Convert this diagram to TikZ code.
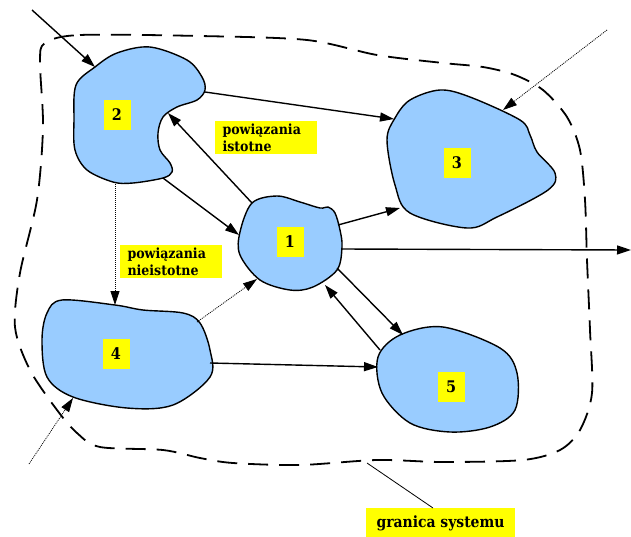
\documentclass[tikz,border=0pt]{standalone}
\usepackage{fontspec}
\setmainfont{DejaVu Serif Condensed}
\usetikzlibrary{arrows.meta}
\definecolor{blobblue}{RGB}{153,204,255}
\definecolor{lblyellow}{RGB}{255,255,0}
\begin{document}
\begin{tikzpicture}[x=1pt,y=-1pt,
  blob/.style={draw=black, line width=1.4pt, fill=blobblue},
  numbox/.style={fill=lblyellow, minimum width=27pt, minimum height=30pt, inner sep=0pt, font=\bfseries\fontsize{16}{18}\selectfont},
  lblbox/.style={fill=lblyellow, align=left, text width=86pt, inner xsep=8pt, inner ysep=3pt, font=\bfseries\fontsize{14}{17}\selectfont},
  conn/.style={line width=1.4pt, -{Triangle[length=14pt,width=9pt]}},
  weak/.style={line width=0.8pt, dash pattern=on 1pt off 1pt, -{Triangle[length=14pt,width=9pt]}},
  bound/.style={line width=1.8pt, dash pattern=on 20pt off 11pt}
]
\useasboundingbox (0,0) rectangle (631,536);

% system boundary
\draw[bound] plot[smooth cycle, tension=0.5] coordinates {
 (45,43) (80,35) (200,36) (307,40) (377,55) (443,63) (483,67) (515,75)
 (543,90) (567,117) (580,150) (585,200) (587,260) (590,330) (592,393)
 (580,430) (560,450) (523,460) (443,462) (377,460) (300,465) (233,463)
 (200,458) (163,450) (100,447) (77,433) (57,410) (30,370) (15,327)
 (20,273) (37,200) (43,127) (40,62)};

% blobs
\draw[blob] plot[smooth cycle, tension=0.55] coordinates {
 (95,67) (117,53) (150,47) (187,60) (202,77) (205,90) (197,100) (177,107)
 (163,117) (158,133) (160,150) (170,163) (172,172) (163,178) (133,183)
 (113,182) (87,170) (75,150) (74,120) (76,85)};
\draw[blob] plot[smooth cycle, tension=0.55] coordinates {
 (252,203) (277,196) (300,202) (320,208) (328,207) (335,213) (340,230)
 (342,247) (337,270) (313,287) (290,290) (260,280) (240,255) (240,232)};
\draw[blob] plot[smooth cycle, tension=0.55] coordinates {
 (410,100) (440,90) (470,97) (520,120) (530,135) (537,152) (555,173)
 (548,190) (497,217) (467,228) (410,213) (395,185) (387,140) (395,118)};
\draw[blob] plot[smooth cycle, tension=0.55] coordinates {
 (62,300) (115,305) (143,310) (183,313) (200,323) (210,350) (210,377)
 (173,405) (127,408) (73,397) (47,377) (42,340) (47,313)};
\draw[blob] plot[smooth cycle, tension=0.55] coordinates {
 (400,335) (443,327) (500,348) (517,373) (515,410) (490,427) (450,432)
 (410,423) (382,393) (378,357)};

% number labels
\node[numbox] (n1) at (290,242) {1};
\node[numbox] (n2) at (117,115) {2};
\node[numbox] (n3) at (457,163) {3};
\node[numbox] (n4) at (116,354) {4};
\node[numbox] (n5) at (451,387) {5};

% text labels
\node[lblbox] (ist) at (265.5,137.5) {powiązania\\istotne};
\node[lblbox] (nieist) at (170.5,261.5) {powiązania\\nieistotne};
\node[fill=lblyellow, minimum width=149pt, minimum height=30pt, inner sep=0pt,
      font=\bfseries\fontsize{15.5}{17}\selectfont] (gran) at (440.5,523) {granica systemu};

% connector end points
\coordinate (in1s) at (32,10);   \coordinate (in1e) at (95,67);
\coordinate (in3s) at (607,30);  \coordinate (in3e) at (503,110);
\coordinate (in4s) at (29,464);  \coordinate (in4e) at (73,398);
\coordinate (o1s) at (342,249);  \coordinate (o1e) at (631,250);
\coordinate (a23s) at (205,92);  \coordinate (a23e) at (394,119);
\coordinate (a12s) at (252,203); \coordinate (a12e) at (168,113);
\coordinate (a21s) at (163,178); \coordinate (a21e) at (239,235);
\coordinate (a13s) at (338,225); \coordinate (a13e) at (400,208);
\coordinate (a24s) at (115,182); \coordinate (a24e) at (115,305);
\coordinate (a41s) at (197,322); \coordinate (a41e) at (257,279);
\coordinate (a45s) at (210,363); \coordinate (a45e) at (378,367);
\coordinate (a15s) at (337,268); \coordinate (a15e) at (403,335);
\coordinate (a51s) at (380,350); \coordinate (a51e) at (325,285);
\coordinate (gs) at (367,463);   \coordinate (gt) at (433,508);

% connectors
\draw[conn] (in1s) -- (in1e);
\draw[weak] (in3s) -- (in3e);
\draw[weak] (in4s) -- (in4e);
\draw[conn] (o1s) -- (o1e);
\draw[conn] (a23s) -- (a23e);
\draw[conn] (a12s) -- (a12e);
\draw[conn] (a21s) -- (a21e);
\draw[conn] (a13s) -- (a13e);
\draw[weak] (a24s) -- (a24e);
\draw[weak] (a41s) -- (a41e);
\draw[conn] (a45s) -- (a45e);
\draw[conn] (a15s) -- (a15e);
\draw[conn] (a51s) -- (a51e);
\draw[line width=0.8pt] (gs) -- (gt);
\end{tikzpicture}
\end{document}
